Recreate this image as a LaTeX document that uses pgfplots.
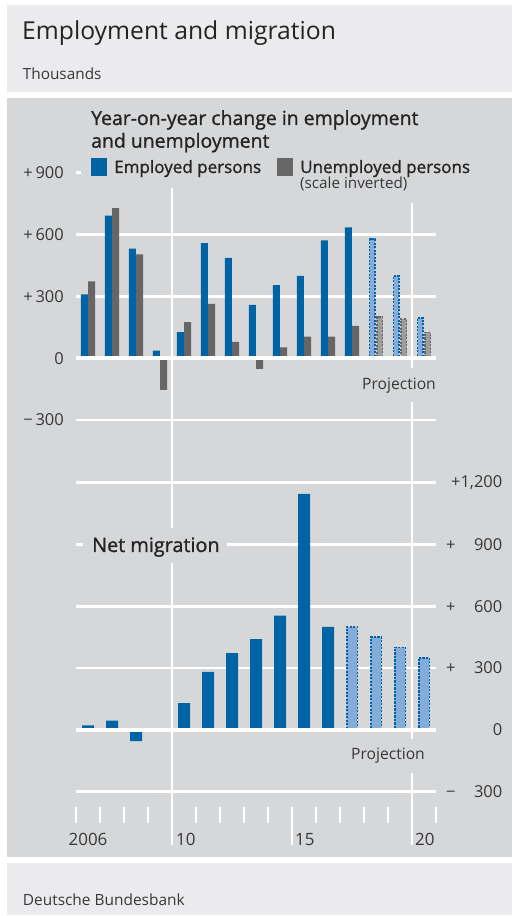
\documentclass[border=0pt]{standalone}
\usepackage{fontspec}
\setmainfont{Open Sans}
\newfontfamily\semib{Open Sans}[FakeBold=1.1]
\usepackage{pgfplots}
\pgfplotsset{compat=1.18}

\definecolor{panel}{HTML}{D6D7D9}
\definecolor{headbg}{HTML}{EBEBED}
\definecolor{bblue}{HTML}{0063A6}
\definecolor{lblue}{HTML}{84ACD9}
\definecolor{bgray}{HTML}{666666}
\definecolor{lgray}{HTML}{9D9D9D}
\definecolor{txt}{HTML}{242424}
\definecolor{ticktxt}{HTML}{383838}

% Employment change (thousands), solid = outturn, dashed = projection
\pgfplotstableread{
year value
2006 310
2007 692
2008 532
2009 36
2010 126
2011 558
2012 486
2013 258
2014 354
2015 399
2016 571
2017 634
}\employed
\pgfplotstableread{
year value
2018 577
2019 400
2020 196
}\employedproj
% Unemployment change, scale inverted
\pgfplotstableread{
year value
2006 373
2007 728
2008 503
2009 -154
2010 175
2011 263
2012 79
2013 -52
2014 52
2015 104
2016 104
2017 157
}\unemployed
\pgfplotstableread{
year value
2018 201
2019 191
2020 125
}\unemployedproj
% Net migration
\pgfplotstableread{
year value
2006 22
2007 45
2008 -55
2010 130
2011 282
2012 373
2013 441
2014 555
2015 1146
2016 500
}\migration
\pgfplotstableread{
year value
2017 500
2018 450
2019 400
2020 350
}\migrationproj

\pgfplotsset{
  panelaxis/.style={
    scale only axis, width=360bp,
    xmin=2005.5, xmax=2020.5,
    axis line style={draw=none},
    major tick length=0pt,
    xtick=\empty,
    ymajorgrids,
    major grid style={white, line width=2.6bp},
    clip=false,
  },
  projbar/.style={dash pattern=on 2.2bp off 1.3bp, line width=1.6bp},
}

\begin{document}
\begin{tikzpicture}[x=1bp,y=1bp]
% page and panels
\fill[white] (0,0) rectangle (512,916);
\fill[headbg] (7,{916-5}) rectangle (512,{916-91.7});
\fill[panel] (7,{916-97.7}) rectangle (512,{916-856.7});
\fill[headbg] (7,{916-862.7}) rectangle (512,{916-915});

% decade separators
\draw[white, line width=2.6bp] (172,{916-188}) -- (172,{916-528});
\draw[white, line width=2.6bp] (172,{916-563}) -- (172,{916-845});
\draw[white, line width=2.6bp] (412,{916-203}) -- (412,{916-368});
\draw[white, line width=2.6bp] (412,{916-402}) -- (412,{916-739});
\draw[white, line width=2.6bp] (412,{916-773}) -- (412,{916-845});
% year ticks
\foreach \k in {0,...,15}
  \draw[white, line width=2.4bp] ({76+24*\k},{916-807}) -- ({76+24*\k},{916-823});
\draw[white, line width=2.4bp] (292,{916-807}) -- (292,{916-845});

% employment and unemployment
\begin{axis}[panelaxis,
  at={(76bp,496bp)}, anchor=south west,
  height=247.3bp, ymin=-300, ymax=900,
  ytick={-300,0,300,600,900},
  yticklabels={−\,300,0,+\,300,+\,600,+\,900},
  yticklabel style={font=\fontsize{16.5}{18}\selectfont, text=ticktxt,
    anchor=east, inner sep=0pt, xshift=-12bp},
]
\addplot[ybar, bar width=7bp, bar shift=-3.7bp, fill=bblue, draw=none]
  table[x=year, y=value] {\employed};
\addplot[ybar, bar width=7bp, bar shift=3.7bp, fill=bgray, draw=none]
  table[x=year, y=value] {\unemployed};
\addplot[ybar, bar width=5.6bp, bar shift=-3.7bp, fill=lblue, draw=bblue, projbar]
  table[x=year, y=value] {\employedproj};
\addplot[ybar, bar width=5.6bp, bar shift=3.7bp, fill=lgray, draw=bgray, projbar]
  table[x=year, y=value] {\unemployedproj};
\draw[white, line width=4.2bp] (axis cs:2005.5,0) -- (axis cs:2020.5,0);
\end{axis}

% net migration
\begin{axis}[panelaxis,
  at={(76bp,124.3bp)}, anchor=south west,
  height=309bp, ymin=-300, ymax=1200,
  ytick={-300,0,300,600,900,1200},
  yticklabels={
    \makebox[56bp][l]{−\hfill 300},
    \makebox[56bp][r]{0},
    \makebox[56bp][l]{+\hfill 300},
    \makebox[56bp][l]{+\hfill 600},
    \makebox[56bp][l]{+\hfill 900},
    \makebox[56bp][r]{+1,200}},
  yticklabel pos=right,
  yticklabel style={font=\fontsize{16.5}{18}\selectfont, text=ticktxt,
    anchor=west, inner sep=0pt, xshift=10bp},
]
\addplot[ybar, bar width=12bp, bar shift=0bp, fill=bblue, draw=none]
  table[x=year, y=value] {\migration};
\addplot[ybar, bar width=10.6bp, bar shift=0bp, fill=lblue, draw=bblue, projbar]
  table[x=year, y=value] {\migrationproj};
\draw[white, line width=4.2bp] (axis cs:2005.5,0) -- (axis cs:2020.5,0);
\end{axis}

% label backgrounds over the grid
\fill[panel] (81,{916-186}) rectangle (440,{916-160});
\fill[panel] (83,{916-551}) rectangle (227,{916-538});

% headings and legend
\node[anchor=base west, inner sep=0pt, text=txt, font=\fontsize{24.8}{28}\selectfont]
  at (22,{916-39.5}) {Employment and migration};
\node[anchor=base west, inner sep=0pt, text=ticktxt, font=\fontsize{15.4}{18}\selectfont]
  at (22.7,{916-80}) {Thousands};
\node[anchor=base west, inner sep=0pt, text=txt, font=\semib\fontsize{19.5}{22}\selectfont]
  at (91,{916-125}) {Year-on-year change in employment};
\node[anchor=base west, inner sep=0pt, text=txt, font=\semib\fontsize{19.5}{22}\selectfont]
  at (91,{916-147.7}) {and unemployment};
\fill[bblue] (91,{916-157.7}) rectangle (106.7,{916-175.7});
\node[anchor=base west, inner sep=0pt, text=txt, font=\semib\fontsize{17.1}{20}\selectfont]
  at (114,{916-173}) {Employed persons};
\fill[bgray] (277,{916-157.7}) rectangle (292.7,{916-175.7});
\node[anchor=base west, inner sep=0pt, text=txt, font=\semib\fontsize{17.1}{20}\selectfont]
  at (300,{916-173}) {Unemployed persons};
\node[anchor=base west, inner sep=0pt, text=ticktxt, font=\fontsize{15.3}{18}\selectfont]
  at (300,{916-188.5}) {(scale inverted)};
\node[anchor=base west, inner sep=0pt, text=txt, font=\semib\fontsize{19.9}{22}\selectfont]
  at (92,{916-552}) {Net migration};
\node[anchor=base east, inner sep=0pt, text=ticktxt, font=\fontsize{15.7}{18}\selectfont]
  at (436,{916-390}) {Projection};
\node[anchor=base east, inner sep=0pt, text=ticktxt, font=\fontsize{15.7}{18}\selectfont]
  at (425,{916-760}) {Projection};

% year labels
\node[anchor=base, inner sep=0pt, text=ticktxt, font=\fontsize{17}{20}\selectfont]
  at (88,{916-846}) {2006};
\node[anchor=base west, inner sep=0pt, text=ticktxt, font=\fontsize{17}{20}\selectfont]
  at (176,{916-846}) {10};
\node[anchor=base west, inner sep=0pt, text=ticktxt, font=\fontsize{17}{20}\selectfont]
  at (295,{916-846}) {15};
\node[anchor=base west, inner sep=0pt, text=ticktxt, font=\fontsize{17}{20}\selectfont]
  at (415,{916-846}) {20};

% footer
\node[anchor=base west, inner sep=0pt, text=ticktxt, font=\fontsize{15.5}{18}\selectfont]
  at (22.7,{916-906}) {Deutsche Bundesbank};
\end{tikzpicture}
\end{document}
